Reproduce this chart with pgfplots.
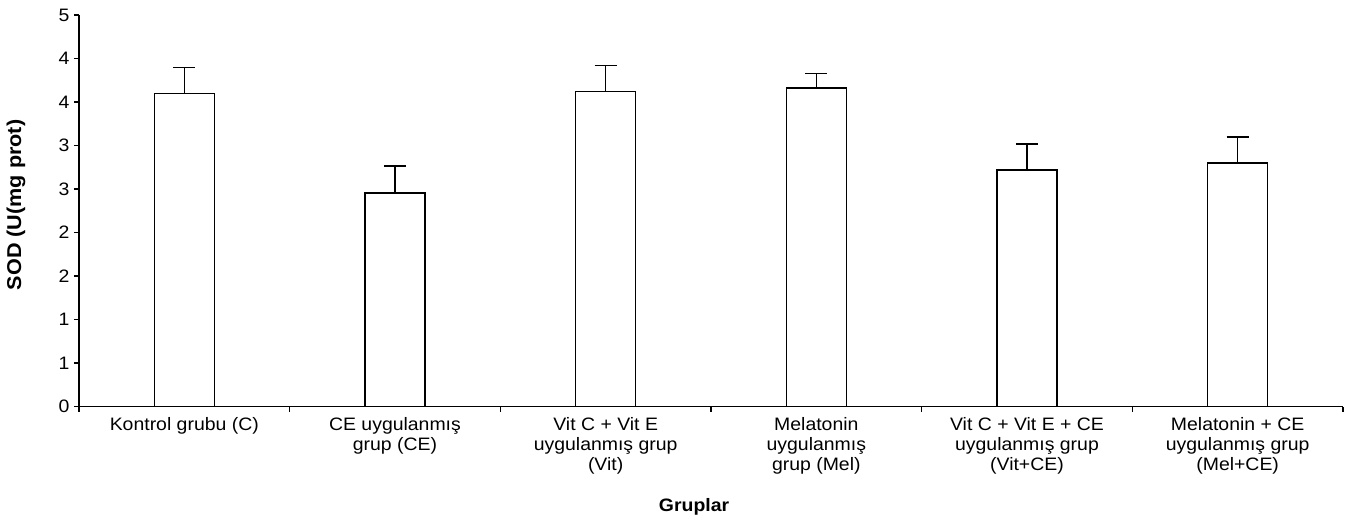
\documentclass[border=0pt]{standalone}
\usepackage{fontspec}
\setmainfont{Liberation Sans}[FakeStretch=1.08]
\usepackage{pgfplots}
\pgfplotsset{compat=1.18}

\begin{document}
\begin{tikzpicture}
\useasboundingbox (-79pt,-113.3pt) rectangle (1277pt,406.7pt);
\begin{axis}[
    at={(0,0)}, anchor=south west,
    width=1264pt, height=391.7pt, scale only axis,
    axis lines*=left,
    axis line style={line width=1.5pt},
    xmin=-0.5, xmax=5.5,
    ymin=0, ymax=4.5,
    ytick={0,0.5,...,4.5},
    yticklabels={0,1,1,2,2,3,3,4,4,5},
    xtick={-0.5,0.5,1.5,2.5,3.5,4.5,5.5},
    x tick label as interval,
    xticklabels={
        Kontrol grubu (C),
        {CE uygulanmış\\grup (CE)},
        {Vit C + Vit E\\uygulanmış grup\\(Vit)},
        {Melatonin\\uygulanmış\\grup (Mel)},
        {Vit C + Vit E + CE\\uygulanmış grup\\(Vit+CE)},
        {Melatonin + CE\\uygulanmış grup\\(Mel+CE)}},
    tick align=outside,
    major tick length=5pt,
    tick style={line width=1.5pt, black},
    tick label style={font=\fontsize{18}{20}\selectfont},
    xticklabel style={align=center, anchor=north, yshift=-2pt},
    yticklabel style={xshift=-1pt},
    xlabel={Gruplar},
    xlabel style={font=\bfseries\fontsize{18}{20}\selectfont,
        at={(axis description cs:0.4866,-0.256)}, anchor=center},
    ylabel={SOD (U(mg prot)},
    ylabel style={font=\bfseries\fontsize{20}{22}\selectfont,
        at={(axis description cs:-0.0498,0.515)}, anchor=center},
    clip=false,
]
\addplot+[ybar, bar width=0.285, fill=white, draw=black, line width=1.5pt,
    mark=none,
    error bars/.cd, y dir=plus, y explicit,
    error bar style={line width=1.5pt, black},
    error mark options={rotate=90, mark size=11pt, line width=1.5pt, black}]
    coordinates {
    (0, 3.60)  +- (0, 0.295)
    (1, 2.455) +- (0, 0.31)
    (2, 3.62)  +- (0, 0.30)
    (3, 3.66)  +- (0, 0.17)
    (4, 2.72)  +- (0, 0.30)
    (5, 2.80)  +- (0, 0.30)
};
\end{axis}
\end{tikzpicture}
\end{document}
